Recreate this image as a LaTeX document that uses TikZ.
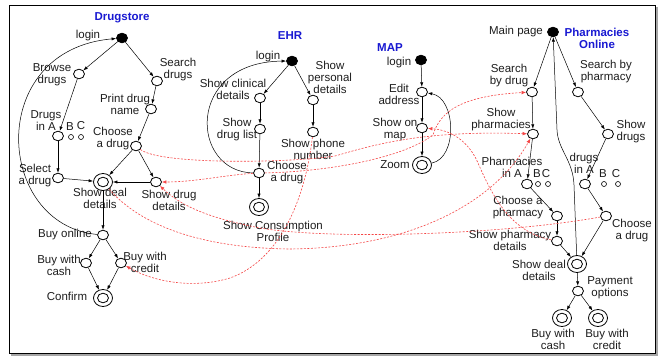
\documentclass[tikz,border=0pt]{standalone}
\usepackage{fontspec}
\setmainfont{Liberation Sans}
\usetikzlibrary{arrows.meta,shapes.geometric}
\definecolor{titleblue}{RGB}{25,25,210}
\definecolor{lkred}{RGB}{245,70,70}
\definecolor{txt}{RGB}{30,30,30}
\newcommand\lbfont{\fontsize{11.5}{12}\selectfont}
\newcommand\ttfont{\fontsize{11.5}{12}\selectfont\bfseries}
\begin{document}
\begin{tikzpicture}[x=1pt,y=-1pt,
  st/.style={ellipse, draw, line width=0.8pt, minimum width=11pt, minimum height=9.6pt, inner sep=0pt, fill=white},
  ini/.style={st, fill=black},
  fin/.style={ellipse, draw, line width=0.8pt, minimum width=19pt, minimum height=17pt, inner sep=0pt, fill=white,
     path picture={\draw[line width=0.8pt] (path picture bounding box.center) ellipse [x radius=5.5pt, y radius=4.8pt];}},
  smalldot/.style={circle, draw, line width=0.6pt, minimum size=5pt, inner sep=0pt},
  lbl/.style={font=\lbfont, align=center, inner sep=0pt, text=txt},
  ttl/.style={font=\ttfont, align=center, inner sep=0pt, text=titleblue},
  ed/.style={-{Latex[length=4.5pt,width=3.2pt]}, line width=0.5pt},
  lk/.style={draw=lkred, line width=0.6pt, dash pattern=on 2pt off 1.5pt, -{Latex[length=4.5pt,width=3.6pt]}, fill=none}
]
\useasboundingbox (0,0) rectangle (668,358);
\fill[white] (0,0) rectangle (668,358);
\draw[gray!70, line width=1.6pt] (657,7) -- (657,355) -- (11,355);
\draw[line width=0.8pt] (9.5,5) rectangle (655,353);

% ---------------- Drugstore ----------------
\node[ttl] (tD) at (122,18) {Drugstore};
\node[ini] (dlogin) at (122,38) {};
\node[lbl] (ldlogin) at (88,36) {login};
\node[st] (dbrowse) at (79,74) {};
\node[lbl] (ldbrowse) at (52,75) {Browse\\drugs};
\node[st] (dsearch) at (157,81) {};
\node[lbl] (ldsearch) at (178,70) {Search\\drugs};
\node[st] (dprint) at (151,109) {};
\node[lbl] (ldprint) at (125,104) {Print drug\\name};
\node[st] (dinA) at (58,136) {};
\node[lbl] (ldinA) at (46,121) {Drugs\\in A};
\node[smalldot] (dB) at (71,137) {};
\node[smalldot] (dC) at (81,137) {};
\node[lbl] (ldB) at (70,127) {B};
\node[lbl] (ldC) at (81,126) {C};
\node[st] (dchoose) at (136,146) {};
\node[lbl] (ldchoose) at (113,139) {Choose\\a drug};
\node[st] (dselect) at (58,178) {};
\node[lbl] (ldselect) at (35,176) {Select\\a drug};
\node[fin] (ddeal) at (103,182) {};
\node[lbl] (lddeal) at (100,198) {Show deal\\details};
\node[st] (ddrug) at (156,182) {};
\node[lbl] (lddrug) at (169,200) {Show drug\\details};
\node[st] (donline) at (103,235) {};
\node[lbl] (ldonline) at (65,235) {Buy online};
\node[st] (dcash) at (86,263) {};
\node[lbl] (ldcash) at (59,265) {Buy with\\cash};
\node[st] (dcredit) at (121,263) {};
\node[lbl] (ldcredit) at (145,262) {Buy with\\credit};
\node[fin] (dconfirm) at (103,298) {};
\node[lbl] (ldconfirm) at (67,296) {Confirm};

\draw[ed] (dlogin) -- (dbrowse);
\draw[ed] (dlogin) -- (dsearch);
\draw[ed] (dbrowse) -- (dinA);
\draw[ed] (dsearch) -- (dprint);
\draw[ed] (dprint) -- (dchoose);
\draw[ed] (dinA) -- (dselect);
\draw[ed] (dselect) -- (ddeal);
\draw[ed] (dchoose) -- (ddeal);
\draw[ed] (dchoose) -- (ddrug);
\draw[ed] (ddrug) -- (ddeal);
\draw[ed] (ddeal) -- (donline);
\draw[ed] (donline) -- (dcash);
\draw[ed] (donline) -- (dcredit);
\draw[ed] (dcash) -- (dconfirm);
\draw[ed] (dcredit) -- (dconfirm);
\draw[ed] (donline) .. controls (-5,225) and (-15,50) .. (dlogin);

% ---------------- EHR ----------------
\node[ttl] (tE) at (290,36) {EHR};
\node[ini] (elogin) at (292,61) {};
\node[lbl] (lelogin) at (268,57) {login};
\node[st] (eclin) at (260,98) {};
\node[lbl] (leclin) at (233,89) {Show clinical\\details};
\node[st] (epers) at (313,100) {};
\node[lbl] (lepers) at (330,77) {Show\\personal\\details};
\node[st] (elist) at (260,129) {};
\node[lbl] (lelist) at (237,130) {Show\\drug list};
\node[st] (ephone) at (313,132) {};
\node[lbl] (lephone) at (313,149) {Show phone\\number};
\node[st] (echoose) at (259,173) {};
\node[lbl] (lechoose) at (287,173) {Choose\\a drug};
\node[fin] (eprof) at (259,207) {};
\node[lbl] (leprof) at (273,231) {Show Consumption\\Profile};

\draw[ed] (elogin) -- (eclin);
\draw[ed] (elogin) -- (epers);
\draw[ed] (eclin) -- (elist);
\draw[ed] (elist) -- (echoose);
\draw[ed] (echoose) -- (eprof);
\draw[ed] (epers) -- (ephone);
\draw[ed] (echoose) .. controls (190,172) and (185,62) .. (elogin);

% ---------------- MAP ----------------
\node[ttl] (tM) at (390,48) {MAP};
\node[ini] (mlogin) at (421,60) {};
\node[lbl] (lmlogin) at (399,63) {login};
\node[st] (medit) at (422,92) {};
\node[lbl] (lmedit) at (399,94) {Edit\\address};
\node[st] (mshow) at (422,128) {};
\node[lbl] (lmshow) at (395,130) {Show on\\map};
\node[fin] (mzoom) at (422,165) {};
\node[lbl] (lmzoom) at (395,165) {Zoom};

\draw[ed] (mlogin) -- (medit);
\draw[ed] (medit) -- (mshow);
\draw[ed] (mshow) -- (mzoom);
\draw[ed] (mzoom) .. controls (458,158) and (456,98) .. (medit);

% ---------------- Pharmacies Online ----------------
\node[ttl] (tP) at (597,38) {Pharmacies\\Online};
\node[ini] (pmain) at (553,32) {};
\node[lbl] (lpmain) at (516,32) {Main page};
\node[st] (psbd) at (532,92) {};
\node[lbl] (lpsbd) at (509,76) {Search\\by drug};
\node[st] (psbp) at (578,92) {};
\node[lbl] (lpsbp) at (606,72) {Search by\\pharmacy};
\node[st] (pshowph) at (533,134) {};
\node[lbl] (lpshowph) at (501,120) {Show\\pharmacies};
\node[st] (pshowdr) at (608,134) {};
\node[lbl] (lpshowdr) at (631,132) {Show\\drugs};
\node[st] (pinA) at (527,184) {};
\node[lbl] (lpinA) at (512,167) {Pharmacies\\in A};
\node[smalldot] (pB1) at (538,184) {};
\node[smalldot] (pC1) at (548,184) {};
\node[lbl] (lpB1) at (537,174) {B};
\node[lbl] (lpC1) at (546,174) {C};
\node[st] (pdinA) at (585,184) {};
\node[lbl] (lpdinA) at (584,163.5) {drugs\\in A};
\node[smalldot] (pB2) at (604,184) {};
\node[smalldot] (pC2) at (618,184) {};
\node[lbl] (lpB2) at (603,174) {B};
\node[lbl] (lpC2) at (616,174) {C};
\node[st] (pchph) at (557,216) {};
\node[lbl] (lpchph) at (518,208) {Choose a\\pharmacy};
\node[st] (pchdr) at (606,216) {};
\node[lbl] (lpchdr) at (632,231) {Choose\\a drug};
\node[st] (pphdet) at (557,241) {};
\node[lbl] (lpphdet) at (510,240) {Show pharmacy\\details};
\node[fin] (pdeal) at (577,264) {};
\node[lbl] (lpdeal) at (539,270) {Show deal\\details};
\node[st] (ppay) at (578,291) {};
\node[lbl] (lppay) at (610,288) {Payment\\options};
\node[fin] (pcash) at (562,318) {};
\node[lbl] (lpcash) at (553,339) {Buy with\\cash};
\node[fin] (pcredit) at (598,318) {};
\node[lbl] (lpcredit) at (607,339) {Buy with\\credit};

\draw[ed] (pmain) -- (psbd);
\draw[ed] (pmain) -- (psbp);
\draw[ed] (psbd) -- (pshowph);
\draw[ed] (pshowph) -- (pinA);
\draw[ed] (pinA) -- (pchph);
\draw[ed] (pchph) -- (pphdet);
\draw[ed] (pphdet) -- (pdeal);
\draw[ed] (psbp) -- (pshowdr);
\draw[ed] (pshowdr) -- (pdinA);
\draw[ed] (pdinA) -- (pchdr);
\draw[ed] (pchdr) -- (pdeal);
\draw[ed] (pdeal) -- (ppay);
\draw[ed] (ppay) -- (pcash);
\draw[ed] (ppay) -- (pcredit);
\draw[ed] (pdeal) -- (574,185) .. controls (573,160) and (558,150) .. (557,130) -- (pmain);

% ---------------- cross-application links ----------------
\draw[lk] (dchoose) .. controls (160,165) and (290,163) .. (335,156) .. controls (370,146) and (420,130) .. (pshowph);
\draw[lk] (echoose) .. controls (225,175) and (195,182) .. (ddrug);
\draw[lk] (echoose) .. controls (320,172) and (400,160) .. (433,135) .. controls (440,112) and (460,96) .. (psbd);
\draw[lk] (ephone) .. controls (305,200) and (280,260) .. (230,278) .. controls (190,290) and (150,280) .. (dcredit);
\draw[lk] (ddeal) .. controls (140,225) and (200,248) .. (290,249) .. controls (400,248) and (490,210) .. (pshowph);
\draw[lk] (pchdr) .. controls (500,235) and (330,240) .. (260,228) .. controls (220,220) and (185,210) .. (ddrug);
\draw[lk] (pphdet) .. controls (510,232) and (492,195) .. (478,163) .. controls (468,140) and (450,130) .. (mshow);
\end{tikzpicture}
\end{document}
